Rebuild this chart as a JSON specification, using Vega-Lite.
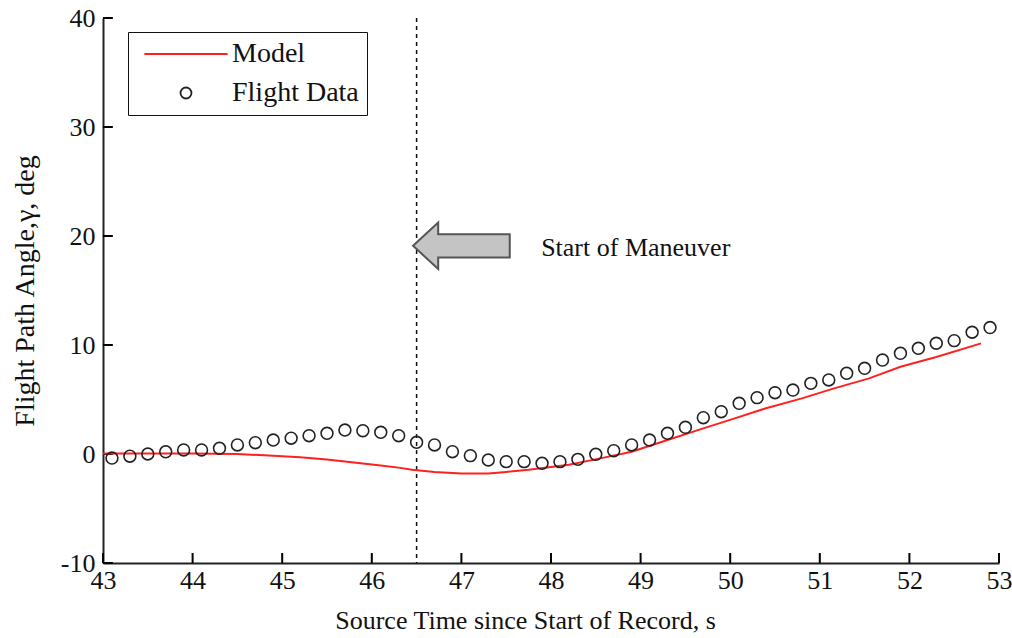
{
  "$schema": "https://vega.github.io/schema/vega-lite/v6.json",
  "width": 896,
  "height": 545,
  "autosize": {"type": "none"},
  "padding": {"left": 103, "top": 18, "right": 13, "bottom": 75},
  "background": "white",
  "config": {
    "view": {"stroke": null},
    "font": "Liberation Serif",
    "axis": {
      "labelFont": "Liberation Serif",
      "labelFontSize": 26,
      "titleFont": "Liberation Serif",
      "titleFontSize": 26,
      "titleFontWeight": "normal",
      "labelColor": "#111",
      "titleColor": "#111",
      "domainColor": "#222",
      "domainWidth": 2,
      "grid": false,
      "labelFlush": false,
      "labelOverlap": false
    }
  },
  "resolve": {"axis": {"x": "independent", "y": "independent"}},
  "datasets": {
    "flight": [
      {"t": 43.1, "gamma": -0.37, "series": "Flight Data"},
      {"t": 43.3, "gamma": -0.2, "series": "Flight Data"},
      {"t": 43.5, "gamma": 0.0, "series": "Flight Data"},
      {"t": 43.7, "gamma": 0.2, "series": "Flight Data"},
      {"t": 43.9, "gamma": 0.37, "series": "Flight Data"},
      {"t": 44.1, "gamma": 0.37, "series": "Flight Data"},
      {"t": 44.3, "gamma": 0.52, "series": "Flight Data"},
      {"t": 44.5, "gamma": 0.83, "series": "Flight Data"},
      {"t": 44.7, "gamma": 1.04, "series": "Flight Data"},
      {"t": 44.9, "gamma": 1.28, "series": "Flight Data"},
      {"t": 45.1, "gamma": 1.45, "series": "Flight Data"},
      {"t": 45.3, "gamma": 1.68, "series": "Flight Data"},
      {"t": 45.5, "gamma": 1.9, "series": "Flight Data"},
      {"t": 45.7, "gamma": 2.2, "series": "Flight Data"},
      {"t": 45.9, "gamma": 2.14, "series": "Flight Data"},
      {"t": 46.1, "gamma": 1.99, "series": "Flight Data"},
      {"t": 46.3, "gamma": 1.68, "series": "Flight Data"},
      {"t": 46.5, "gamma": 1.07, "series": "Flight Data"},
      {"t": 46.7, "gamma": 0.83, "series": "Flight Data"},
      {"t": 46.9, "gamma": 0.21, "series": "Flight Data"},
      {"t": 47.1, "gamma": -0.15, "series": "Flight Data"},
      {"t": 47.3, "gamma": -0.55, "series": "Flight Data"},
      {"t": 47.5, "gamma": -0.7, "series": "Flight Data"},
      {"t": 47.7, "gamma": -0.7, "series": "Flight Data"},
      {"t": 47.9, "gamma": -0.85, "series": "Flight Data"},
      {"t": 48.1, "gamma": -0.7, "series": "Flight Data"},
      {"t": 48.3, "gamma": -0.49, "series": "Flight Data"},
      {"t": 48.5, "gamma": -0.03, "series": "Flight Data"},
      {"t": 48.7, "gamma": 0.3, "series": "Flight Data"},
      {"t": 48.9, "gamma": 0.83, "series": "Flight Data"},
      {"t": 49.1, "gamma": 1.28, "series": "Flight Data"},
      {"t": 49.3, "gamma": 1.9, "series": "Flight Data"},
      {"t": 49.5, "gamma": 2.45, "series": "Flight Data"},
      {"t": 49.7, "gamma": 3.33, "series": "Flight Data"},
      {"t": 49.9, "gamma": 3.88, "series": "Flight Data"},
      {"t": 50.1, "gamma": 4.65, "series": "Flight Data"},
      {"t": 50.3, "gamma": 5.17, "series": "Flight Data"},
      {"t": 50.5, "gamma": 5.62, "series": "Flight Data"},
      {"t": 50.7, "gamma": 5.87, "series": "Flight Data"},
      {"t": 50.9, "gamma": 6.48, "series": "Flight Data"},
      {"t": 51.1, "gamma": 6.79, "series": "Flight Data"},
      {"t": 51.3, "gamma": 7.4, "series": "Flight Data"},
      {"t": 51.5, "gamma": 7.86, "series": "Flight Data"},
      {"t": 51.7, "gamma": 8.62, "series": "Flight Data"},
      {"t": 51.9, "gamma": 9.24, "series": "Flight Data"},
      {"t": 52.1, "gamma": 9.7, "series": "Flight Data"},
      {"t": 52.3, "gamma": 10.16, "series": "Flight Data"},
      {"t": 52.5, "gamma": 10.4, "series": "Flight Data"},
      {"t": 52.7, "gamma": 11.17, "series": "Flight Data"},
      {"t": 52.9, "gamma": 11.6, "series": "Flight Data"}
    ],
    "model": [
      {"t": 43.0, "gamma": 0.05},
      {"t": 44.0, "gamma": 0.05},
      {"t": 44.5, "gamma": 0.0},
      {"t": 44.8, "gamma": -0.12},
      {"t": 45.2, "gamma": -0.3},
      {"t": 45.5, "gamma": -0.5},
      {"t": 45.8, "gamma": -0.78},
      {"t": 46.1, "gamma": -1.05},
      {"t": 46.3, "gamma": -1.25},
      {"t": 46.45, "gamma": -1.45},
      {"t": 46.7, "gamma": -1.65},
      {"t": 47.0, "gamma": -1.78},
      {"t": 47.3, "gamma": -1.78},
      {"t": 47.5, "gamma": -1.65},
      {"t": 47.75, "gamma": -1.45},
      {"t": 48.0, "gamma": -1.2},
      {"t": 48.2, "gamma": -0.98},
      {"t": 48.55, "gamma": -0.4},
      {"t": 48.9, "gamma": 0.2},
      {"t": 49.3, "gamma": 1.28},
      {"t": 49.7, "gamma": 2.35},
      {"t": 50.05, "gamma": 3.27},
      {"t": 50.4, "gamma": 4.2},
      {"t": 50.8, "gamma": 5.1},
      {"t": 51.15, "gamma": 6.0},
      {"t": 51.55, "gamma": 6.94},
      {"t": 51.9, "gamma": 8.0},
      {"t": 52.3, "gamma": 8.9},
      {"t": 52.8, "gamma": 10.15}
    ],
    "xticks": [{"t": 43}, {"t": 44}, {"t": 45}, {"t": 46}, {"t": 47}, {"t": 48}, {"t": 49}, {"t": 50}, {"t": 51}, {"t": 52}, {"t": 53}],
    "yticks": [{"v": -10}, {"v": 0}, {"v": 10}, {"v": 20}, {"v": 30}, {"v": 40}],
    "marker": [{"t": 46.5}],
    "arrow": [{"t": 47.0, "gamma": 19.1}],
    "note": [{"t": 47.89, "gamma": 18.9, "label": "Start of Maneuver"}]
  },
  "layer": [
    {
      "data": {"name": "marker"},
      "mark": {"type": "rule", "color": "#111", "strokeWidth": 1.5, "strokeDash": [4, 4]},
      "encoding": {
        "x": {"field": "t", "type": "quantitative", "scale": {"domain": [43, 53], "nice": false, "zero": false}, "axis": null}
      }
    },
    {
      "data": {"name": "xticks"},
      "mark": {"type": "rule", "strokeWidth": 2, "color": "#000000", "opacity": 1},
      "encoding": {
        "x": {"field": "t", "type": "quantitative", "axis": null},
        "y": {"datum": -10, "type": "quantitative", "axis": null},
        "y2": {"datum": -9.08}
      }
    },
    {
      "data": {"name": "yticks"},
      "mark": {"type": "rule", "strokeWidth": 2, "color": "#000000", "opacity": 1},
      "encoding": {
        "y": {"field": "v", "type": "quantitative", "axis": null},
        "x": {"datum": 43, "type": "quantitative", "axis": null},
        "x2": {"datum": 43.11}
      }
    },
    {
      "data": {"name": "model"},
      "mark": {"type": "line", "color": "#ff2020", "strokeWidth": 2},
      "encoding": {
        "x": {"field": "t", "type": "quantitative", "scale": {"domain": [43, 53], "nice": false, "zero": false},
          "axis": {"orient": "bottom", "values": [43, 44, 45, 46, 47, 48, 49, 50, 51, 52, 53], "labelExpr": "'' + datum.value",
            "title": "Source Time since Start of Record, s", "titleX": 422,
            "ticks": false, "labelPadding": 4, "titlePadding": 14}},
        "y": {"field": "gamma", "type": "quantitative", "scale": {"domain": [-10, 40], "nice": false, "zero": false},
          "axis": {"orient": "left", "values": [-10, 0, 10, 20, 30, 40], "labelExpr": "'' + datum.value",
            "title": "Flight Path Angle,γ, deg", "titleFontSize": 28,
            "ticks": false, "labelPadding": 8, "titlePadding": 21}}
      }
    },
    {
      "data": {"name": "flight"},
      "mark": {"type": "point", "filled": false, "strokeWidth": 1.6, "size": 140, "opacity": 1},
      "encoding": {
        "x": {"field": "t", "type": "quantitative", "axis": null},
        "y": {"field": "gamma", "type": "quantitative", "axis": null},
        "color": {"field": "series", "type": "nominal",
          "scale": {"domain": ["Model", "Flight Data"], "range": ["#ff2020", "#222222"]},
          "legend": {
            "title": null, "orient": "none", "legendX": 25, "legendY": 14,
            "padding": 8, "strokeColor": "#111", "fillColor": "white",
            "labelFont": "Liberation Serif", "labelFontSize": 28, "labelColor": "#111",
            "symbolSize": 120, "symbolStrokeWidth": 1.8, "symbolOffset": 36, "labelOffset": 32,
            "rowPadding": 11
          }},
        "shape": {"field": "series", "type": "nominal",
          "scale": {"domain": ["Model", "Flight Data"], "range": ["M-7.6,0H7.6", "circle"]}}
      }
    },
    {
      "data": {"name": "arrow"},
      "mark": {"type": "point", "shape": "M-1,0L-0.48,-0.48L-0.48,-0.24L1,-0.24L1,0.24L-0.48,0.24L-0.48,0.48Z",
        "filled": true, "fill": "#c4c4c4", "stroke": "#555555", "strokeWidth": 2, "size": 9350, "opacity": 1, "fillOpacity": 1},
      "encoding": {
        "x": {"field": "t", "type": "quantitative", "axis": null},
        "y": {"field": "gamma", "type": "quantitative", "axis": null}
      }
    },
    {
      "data": {"name": "note"},
      "mark": {"type": "text", "align": "left", "baseline": "middle", "font": "Liberation Serif", "fontSize": 26, "color": "#111"},
      "encoding": {
        "x": {"field": "t", "type": "quantitative", "axis": null},
        "y": {"field": "gamma", "type": "quantitative", "axis": null},
        "text": {"field": "label"}
      }
    }
  ]
}
